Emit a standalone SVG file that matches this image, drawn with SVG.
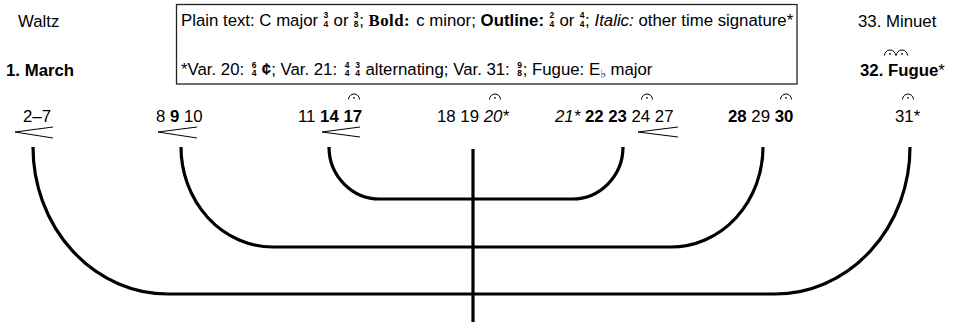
<svg xmlns="http://www.w3.org/2000/svg" width="957" height="323" viewBox="0 0 957 323">
<style>
text{font-family:"Liberation Sans",Arial,sans-serif;font-size:16.8px;fill:#000}
.b{font-weight:bold}
.i{font-style:italic}
.fr{font-size:8.5px;font-weight:bold;text-anchor:middle}
.arc{fill:none;stroke:#000;stroke-width:3.2}
.hp{fill:none;stroke:#000;stroke-width:1}
.fm{fill:none;stroke:#000;stroke-width:1}
</style>
<defs>
<g id="ferm"><path class="fm" d="M-5.5,5.5 A5.5,5.5 0 0 1 5.5,5.5"/><circle cx="0" cy="3.8" r="0.9" fill="#000"/></g>
</defs>
<rect x="176.5" y="4.5" width="620.5" height="79.5" fill="#fff" stroke="#222" stroke-width="1.3"/>
<g id="legend">
<text x="181" y="25.5">Plain text: C major</text>
<text class="fr" x="325.9" y="18">3</text><text class="fr" x="325.9" y="26.5">4</text>
<text x="333.6" y="25.5">or</text>
<text class="fr" x="356.2" y="18">3</text><text class="fr" x="356.2" y="26.5">8</text>
<text x="359.2" y="25.5">;</text>
<text x="368.6" y="25.5" textLength="41" style="font-family:'Liberation Serif',serif;font-weight:bold">Bold:</text>
<text x="416.2" y="25.5">c minor;</text>
<text class="b" x="480.6" y="25.5">Outline:</text>
<text class="fr" x="551.8" y="18">2</text><text class="fr" x="551.8" y="26.5">4</text>
<text x="559.5" y="25.5">or</text>
<text class="fr" x="582.1" y="18">4</text><text class="fr" x="582.1" y="26.5">4</text>
<text x="585.1" y="25.5">;</text>
<text class="i" x="594.5" y="25.5">Italic:</text>
<text x="638.4" y="25.5">other time signature*</text>
<text x="181" y="75">*Var. 20:</text>
<text class="fr" x="254.1" y="67.5">6</text><text class="fr" x="254.1" y="76">4</text>
<text x="261.8" y="75"><tspan class="b">¢</tspan>;</text>
<text x="280.5" y="75">Var. 21:</text>
<text class="fr" x="347" y="67.5">4</text><text class="fr" x="347" y="76">4</text>
<text class="fr" x="357.7" y="67.5">3</text><text class="fr" x="357.7" y="76">4</text>
<text x="365.4" y="75">alternating;</text>
<text x="453.2" y="75">Var. 31:</text>
<text class="fr" x="519.7" y="67.5">9</text><text class="fr" x="519.7" y="76">8</text>
<text x="522.7" y="75">; Fugue: E<tspan style="font-family:'DejaVu Sans',sans-serif;font-size:12px" dy="3">♭</tspan><tspan dy="-3"> major</tspan></text>
</g>
<g id="waltz"><text x="18" y="27">Waltz</text></g>
<g id="march"><text class="b" x="6" y="76">1. March</text></g>
<g id="minuet"><text x="858" y="27">33. Minuet</text></g>
<g id="fugue"><text x="860" y="76"><tspan class="b">32. Fugue</tspan>*</text>
<use href="#ferm" x="890" y="50"/><use href="#ferm" x="902" y="50"/></g>
<g id="n2-7"><text x="23" y="122">2–7</text><path class="hp" d="M53,127 L15,132 L53,138"/></g>
<g id="n8-10"><text x="156" y="122">8 <tspan class="b">9</tspan> 10</text><path class="hp" d="M197,127 L158,132 L197,138"/></g>
<g id="n11-17"><text x="298" y="122">11 <tspan class="b">14 17</tspan></text><path class="hp" d="M360,127 L322,132 L360,137"/><use href="#ferm" x="354" y="94"/></g>
<g id="n18-20"><text x="437" y="122">18 19 <tspan class="i">20*</tspan></text><use href="#ferm" x="495" y="94"/></g>
<g id="n21-27"><text x="555" y="122"><tspan class="i">21*</tspan> <tspan class="b">22 23</tspan> 24 27</text><path class="hp" d="M678,127 L638,132 L678,137"/><use href="#ferm" x="647" y="94"/></g>
<g id="n28-30"><text x="728" y="122"><tspan class="b">28</tspan> 29 <tspan class="b">30</tspan></text><use href="#ferm" x="786" y="94"/></g>
<g id="n31"><text x="895" y="122">31*</text><use href="#ferm" x="908" y="94"/></g>
<g id="connectors">
<path class="arc" d="M33,147 A135,147 0 0 0 168,294 L775,294 A135,147 0 0 0 910,147"/>
<path class="arc" d="M181,147 A92,100 0 0 0 273,247 L671,247 A92,100 0 0 0 763,147"/>
<path class="arc" d="M329,147 A51,52 0 0 0 380,199 L572,199 A51,52 0 0 0 623,147"/>
<path class="arc" d="M473,149 L473,322"/>
</g>
</svg>
